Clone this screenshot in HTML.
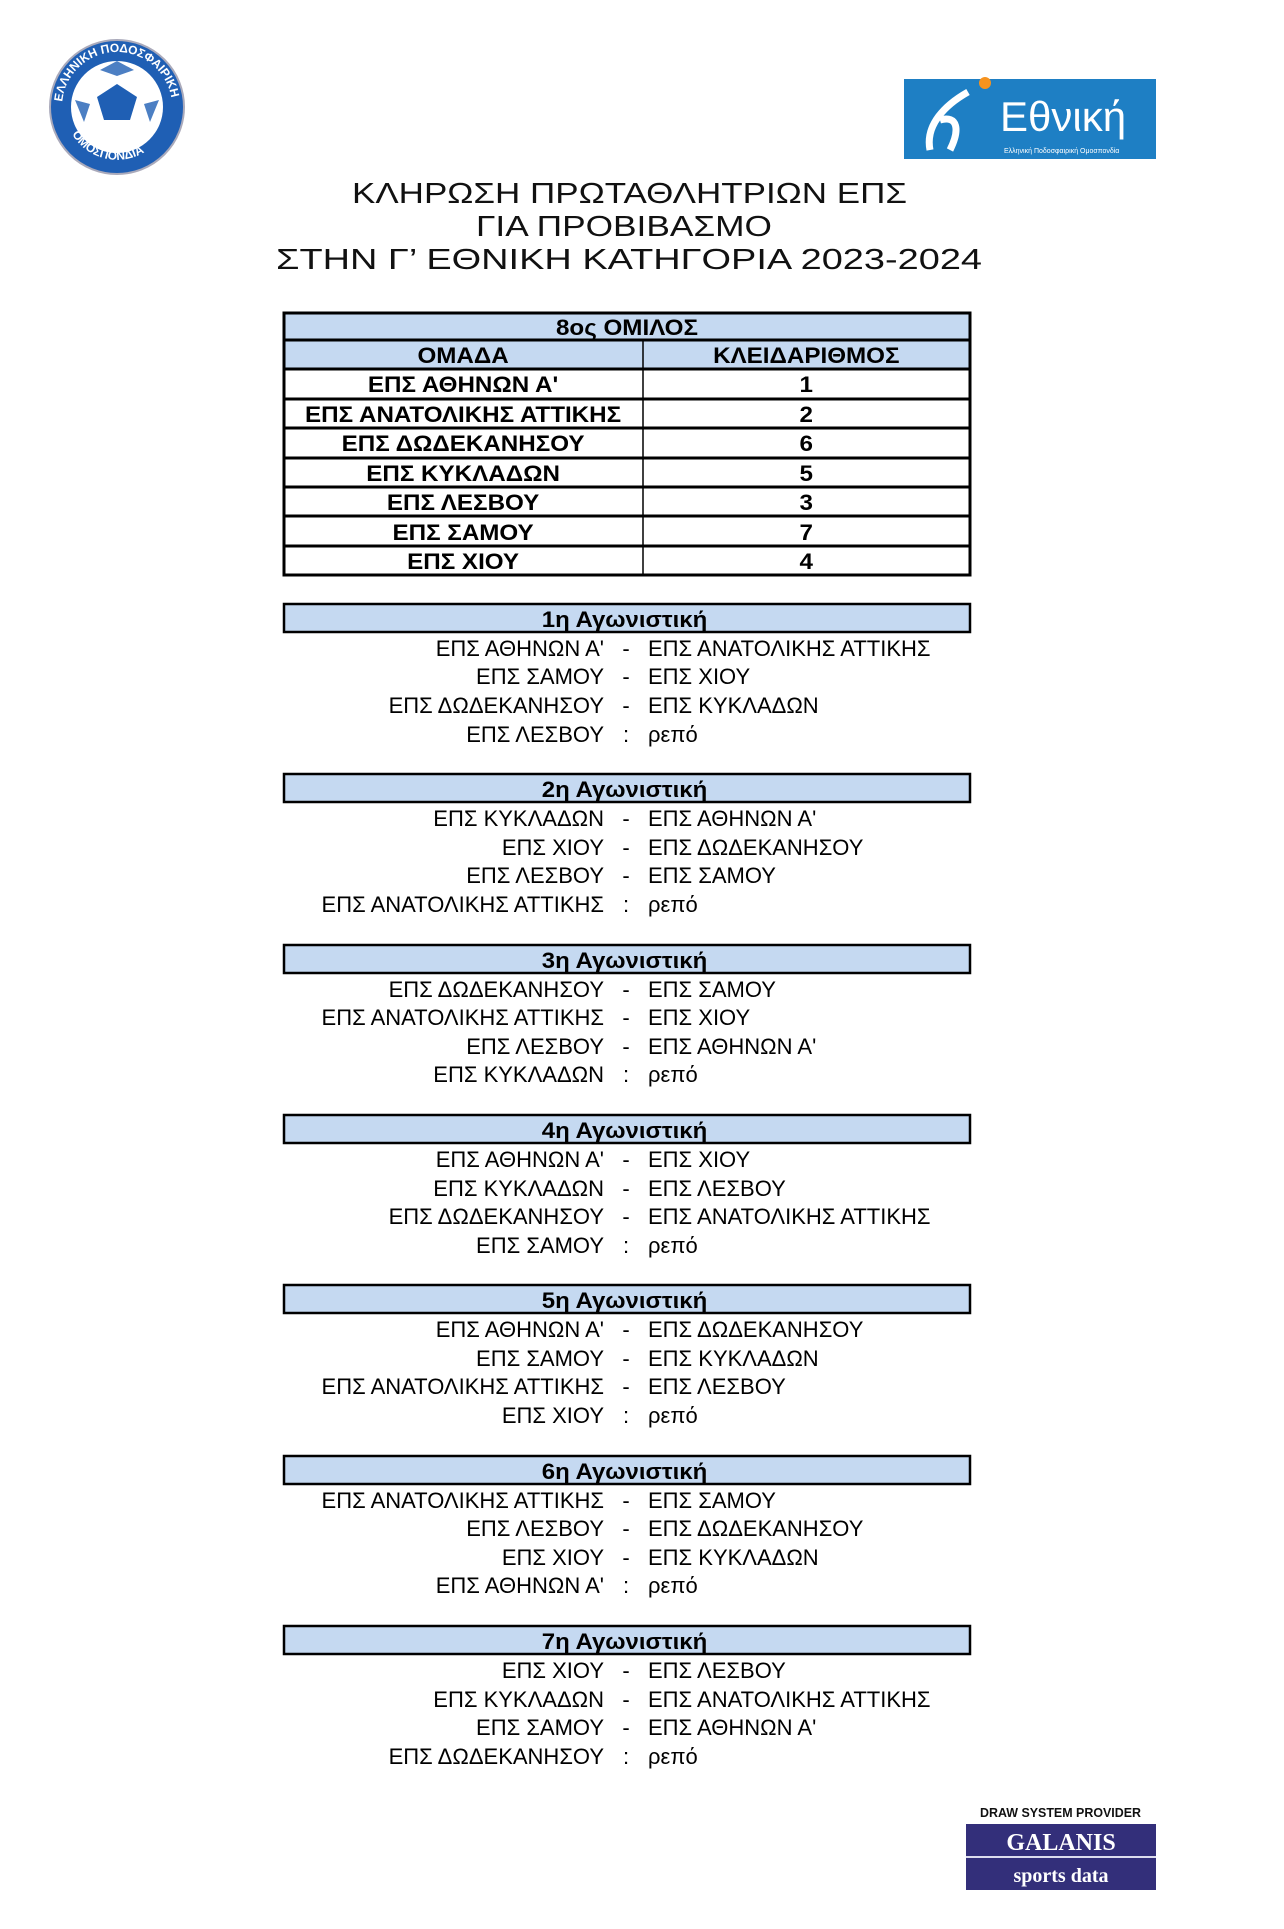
<!DOCTYPE html>
<html><head><meta charset="utf-8"><style>html,body{margin:0;padding:0;background:#fff}svg{display:block}</style></head>
<body>
<svg width="1284" height="1929" viewBox="0 0 1284 1929" xmlns="http://www.w3.org/2000/svg" font-family="'Liberation Sans', sans-serif">
<rect width="1284" height="1929" fill="#fff"/>
<!-- left logo -->
<circle cx="117" cy="107" r="67" fill="#1f5fb4" stroke="#aab" stroke-width="2"/>
<circle cx="117" cy="107" r="46" fill="#fff"/>
<path d="M97 97 L117 84 L137 97 L130 120 L104 120 Z" fill="#1f5fb4"/>
<path d="M117 61 L100 70 L117 76 L134 70Z M75 100 L84 122 L90 104Z M159 100 L150 122 L144 104Z" fill="#1f5fb4" opacity="0.8"/>
<defs><path id="arc" d="M62 107 A55 55 0 1 1 172 107"/><path id="arc2" d="M66 118 A52 52 0 0 0 168 118"/></defs>
<text font-size="12" font-weight="bold" fill="#fff"><textPath href="#arc" startOffset="3%">ΕΛΛΗΝΙΚΗ ΠΟΔΟΣΦΑΙΡΙΚΗ</textPath></text>
<text font-size="12" font-weight="bold" fill="#fff"><textPath href="#arc2" startOffset="12%">ΟΜΟΣΠΟΝΔΙΑ</textPath></text>
<!-- right logo -->
<rect x="904" y="79" width="252" height="80" fill="#1e7fc4"/>
<path d="M930 150 C925 125 945 105 968 92 M950 150 C960 130 958 115 940 120" stroke="#fff" stroke-width="7" fill="none"/>
<circle cx="985" cy="83" r="6" fill="#f7931e"/>
<text x="1000" y="131" font-size="42" fill="#fff">Εθνική</text>
<text x="1004" y="153" font-size="7" fill="#fff">Ελληνική Ποδοσφαιρική Ομοσπονδία</text>
<!-- title -->
<text x="352" y="203" font-size="29" textLength="555" lengthAdjust="spacingAndGlyphs" fill="#111">ΚΛΗΡΩΣΗ ΠΡΩΤΑΘΛΗΤΡΙΩΝ ΕΠΣ</text>
<text x="476" y="236" font-size="29" textLength="296" lengthAdjust="spacingAndGlyphs" fill="#111">ΓΙΑ ΠΡΟΒΙΒΑΣΜΟ</text>
<text x="276" y="269" font-size="29" textLength="706" lengthAdjust="spacingAndGlyphs" fill="#111">ΣΤΗΝ Γ’ ΕΘΝΙΚΗ ΚΑΤΗΓΟΡΙΑ 2023-2024</text>
<!-- table -->
<rect x="284" y="313" width="686" height="57" fill="#c5d9f1"/>
<g stroke="#000" stroke-width="3" fill="none">
<rect x="284" y="313" width="686" height="262"/>
<line x1="284" y1="340" x2="970" y2="340"/><line x1="284" y1="369" x2="970" y2="369"/>
<line x1="284" y1="399" x2="970" y2="399"/><line x1="284" y1="428" x2="970" y2="428"/>
<line x1="284" y1="458" x2="970" y2="458"/><line x1="284" y1="487" x2="970" y2="487"/>
<line x1="284" y1="516" x2="970" y2="516"/><line x1="284" y1="546" x2="970" y2="546"/>
</g>
<line x1="643" y1="340" x2="643" y2="575" stroke="#000" stroke-width="1.5"/>
<g transform="scale(1.1,1)" font-weight="bold" font-size="22" text-anchor="middle" fill="#000">
<text x="570" y="335">8ος ΟΜΙΛΟΣ</text>
<text x="421" y="363">ΟΜΑΔΑ</text><text x="733" y="363">ΚΛΕΙΔΑΡΙΘΜΟΣ</text>
<text x="421" y="392">ΕΠΣ ΑΘΗΝΩΝ Α'</text><text x="733" y="392">1</text>
<text x="421" y="422">ΕΠΣ ΑΝΑΤΟΛΙΚΗΣ ΑΤΤΙΚΗΣ</text><text x="733" y="422">2</text>
<text x="421" y="451">ΕΠΣ ΔΩΔΕΚΑΝΗΣΟΥ</text><text x="733" y="451">6</text>
<text x="421" y="481">ΕΠΣ ΚΥΚΛΑΔΩΝ</text><text x="733" y="481">5</text>
<text x="421" y="510">ΕΠΣ ΛΕΣΒΟΥ</text><text x="733" y="510">3</text>
<text x="421" y="540">ΕΠΣ ΣΑΜΟΥ</text><text x="733" y="540">7</text>
<text x="421" y="569">ΕΠΣ ΧΙΟΥ</text><text x="733" y="569">4</text>
</g>
<!-- rounds -->
<g fill="#c5d9f1" stroke="#000" stroke-width="2.5">
<rect x="284" y="604" width="686" height="28"/><rect x="284" y="774" width="686" height="28"/>
<rect x="284" y="945" width="686" height="28"/><rect x="284" y="1115" width="686" height="28"/>
<rect x="284" y="1285" width="686" height="28"/><rect x="284" y="1456" width="686" height="28"/>
<rect x="284" y="1626" width="686" height="28"/>
</g>
<g transform="scale(1.09,1)" font-size="22" fill="#000" font-weight="bold" text-anchor="middle">
<text x="573" y="627">1η Αγωνιστική</text><text x="573" y="797">2η Αγωνιστική</text>
<text x="573" y="968">3η Αγωνιστική</text><text x="573" y="1138">4η Αγωνιστική</text>
<text x="573" y="1308">5η Αγωνιστική</text><text x="573" y="1479">6η Αγωνιστική</text>
<text x="573" y="1649">7η Αγωνιστική</text>
</g>
<g font-size="22" fill="#000">
<g text-anchor="end">
<text x="604" y="656">ΕΠΣ ΑΘΗΝΩΝ Α'</text><text x="604" y="684">ΕΠΣ ΣΑΜΟΥ</text><text x="604" y="713">ΕΠΣ ΔΩΔΕΚΑΝΗΣΟΥ</text><text x="604" y="742">ΕΠΣ ΛΕΣΒΟΥ</text>
<text x="604" y="826">ΕΠΣ ΚΥΚΛΑΔΩΝ</text><text x="604" y="855">ΕΠΣ ΧΙΟΥ</text><text x="604" y="883">ΕΠΣ ΛΕΣΒΟΥ</text><text x="604" y="912">ΕΠΣ ΑΝΑΤΟΛΙΚΗΣ ΑΤΤΙΚΗΣ</text>
<text x="604" y="997">ΕΠΣ ΔΩΔΕΚΑΝΗΣΟΥ</text><text x="604" y="1025">ΕΠΣ ΑΝΑΤΟΛΙΚΗΣ ΑΤΤΙΚΗΣ</text><text x="604" y="1054">ΕΠΣ ΛΕΣΒΟΥ</text><text x="604" y="1082">ΕΠΣ ΚΥΚΛΑΔΩΝ</text>
<text x="604" y="1167">ΕΠΣ ΑΘΗΝΩΝ Α'</text><text x="604" y="1196">ΕΠΣ ΚΥΚΛΑΔΩΝ</text><text x="604" y="1224">ΕΠΣ ΔΩΔΕΚΑΝΗΣΟΥ</text><text x="604" y="1253">ΕΠΣ ΣΑΜΟΥ</text>
<text x="604" y="1337">ΕΠΣ ΑΘΗΝΩΝ Α'</text><text x="604" y="1366">ΕΠΣ ΣΑΜΟΥ</text><text x="604" y="1394">ΕΠΣ ΑΝΑΤΟΛΙΚΗΣ ΑΤΤΙΚΗΣ</text><text x="604" y="1423">ΕΠΣ ΧΙΟΥ</text>
<text x="604" y="1508">ΕΠΣ ΑΝΑΤΟΛΙΚΗΣ ΑΤΤΙΚΗΣ</text><text x="604" y="1536">ΕΠΣ ΛΕΣΒΟΥ</text><text x="604" y="1565">ΕΠΣ ΧΙΟΥ</text><text x="604" y="1593">ΕΠΣ ΑΘΗΝΩΝ Α'</text>
<text x="604" y="1678">ΕΠΣ ΧΙΟΥ</text><text x="604" y="1707">ΕΠΣ ΚΥΚΛΑΔΩΝ</text><text x="604" y="1735">ΕΠΣ ΣΑΜΟΥ</text><text x="604" y="1764">ΕΠΣ ΔΩΔΕΚΑΝΗΣΟΥ</text>
</g>
<g text-anchor="middle">
<text x="626" y="656">-</text><text x="626" y="684">-</text><text x="626" y="713">-</text><text x="626" y="742">:</text>
<text x="626" y="826">-</text><text x="626" y="855">-</text><text x="626" y="883">-</text><text x="626" y="912">:</text>
<text x="626" y="997">-</text><text x="626" y="1025">-</text><text x="626" y="1054">-</text><text x="626" y="1082">:</text>
<text x="626" y="1167">-</text><text x="626" y="1196">-</text><text x="626" y="1224">-</text><text x="626" y="1253">:</text>
<text x="626" y="1337">-</text><text x="626" y="1366">-</text><text x="626" y="1394">-</text><text x="626" y="1423">:</text>
<text x="626" y="1508">-</text><text x="626" y="1536">-</text><text x="626" y="1565">-</text><text x="626" y="1593">:</text>
<text x="626" y="1678">-</text><text x="626" y="1707">-</text><text x="626" y="1735">-</text><text x="626" y="1764">:</text>
</g>
<g>
<text x="648" y="656">ΕΠΣ ΑΝΑΤΟΛΙΚΗΣ ΑΤΤΙΚΗΣ</text><text x="648" y="684">ΕΠΣ ΧΙΟΥ</text><text x="648" y="713">ΕΠΣ ΚΥΚΛΑΔΩΝ</text><text x="648" y="742">ρεπό</text>
<text x="648" y="826">ΕΠΣ ΑΘΗΝΩΝ Α'</text><text x="648" y="855">ΕΠΣ ΔΩΔΕΚΑΝΗΣΟΥ</text><text x="648" y="883">ΕΠΣ ΣΑΜΟΥ</text><text x="648" y="912">ρεπό</text>
<text x="648" y="997">ΕΠΣ ΣΑΜΟΥ</text><text x="648" y="1025">ΕΠΣ ΧΙΟΥ</text><text x="648" y="1054">ΕΠΣ ΑΘΗΝΩΝ Α'</text><text x="648" y="1082">ρεπό</text>
<text x="648" y="1167">ΕΠΣ ΧΙΟΥ</text><text x="648" y="1196">ΕΠΣ ΛΕΣΒΟΥ</text><text x="648" y="1224">ΕΠΣ ΑΝΑΤΟΛΙΚΗΣ ΑΤΤΙΚΗΣ</text><text x="648" y="1253">ρεπό</text>
<text x="648" y="1337">ΕΠΣ ΔΩΔΕΚΑΝΗΣΟΥ</text><text x="648" y="1366">ΕΠΣ ΚΥΚΛΑΔΩΝ</text><text x="648" y="1394">ΕΠΣ ΛΕΣΒΟΥ</text><text x="648" y="1423">ρεπό</text>
<text x="648" y="1508">ΕΠΣ ΣΑΜΟΥ</text><text x="648" y="1536">ΕΠΣ ΔΩΔΕΚΑΝΗΣΟΥ</text><text x="648" y="1565">ΕΠΣ ΚΥΚΛΑΔΩΝ</text><text x="648" y="1593">ρεπό</text>
<text x="648" y="1678">ΕΠΣ ΛΕΣΒΟΥ</text><text x="648" y="1707">ΕΠΣ ΑΝΑΤΟΛΙΚΗΣ ΑΤΤΙΚΗΣ</text><text x="648" y="1735">ΕΠΣ ΑΘΗΝΩΝ Α'</text><text x="648" y="1764">ρεπό</text>
</g>
</g>
<!-- galanis -->
<text x="980" y="1817" font-size="13" font-weight="bold" textLength="161" lengthAdjust="spacingAndGlyphs" fill="#111">DRAW SYSTEM PROVIDER</text>
<rect x="966" y="1824" width="190" height="66" fill="#332f7a"/>
<line x1="966" y1="1857" x2="1156" y2="1857" stroke="#dde" stroke-width="2"/>
<text x="1061" y="1850" font-family="'Liberation Serif', serif" font-weight="bold" font-size="24" fill="#fff" text-anchor="middle">GALANIS</text>
<text x="1061" y="1882" font-family="'Liberation Serif', serif" font-weight="bold" font-size="20" fill="#fff" text-anchor="middle">sports data</text>
</svg>
</body></html>
